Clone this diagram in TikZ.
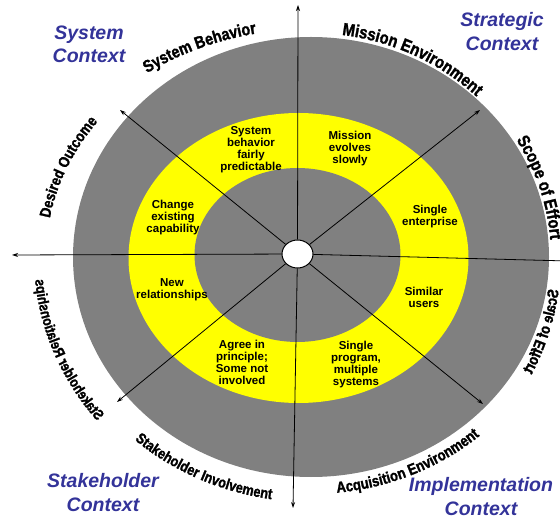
\documentclass[tikz,border=0pt]{standalone}
\usepackage{fontspec}
\setmainfont{Liberation Sans}
\newfontfamily\rimface{Liberation Sans}[FakeStretch=0.85, BoldFeatures={FakeBold=1.5}]
\usepackage{xcolor}
\usepackage{tikz}
\usetikzlibrary{positioning,shapes,arrows.meta,decorations.text,calc}
\definecolor{ringgray}{HTML}{808080}
\definecolor{ringyellow}{HTML}{FFFF00}
\definecolor{ctxblue}{HTML}{333399}
\newcommand{\rimfont}[1]{\rimface\bfseries\fontsize{#1}{#1}\selectfont}
\tikzstyle{cell}=[%
      align=center, font=\bfseries\fontsize{11.5}{12}\selectfont, inner sep=0pt
]
\tikzstyle{ctx}=[%
      align=center, text=ctxblue, font=\bfseries\itshape\fontsize{19.5}{23.5}\selectfont, inner sep=0pt
]
\tikzstyle{hubnode}=[%
      ellipse, draw=black, line width=1pt, fill=white,
      minimum width=31pt, minimum height=28pt, inner sep=0pt
]
\tikzstyle{spoke}=[%
      draw=black, line width=0.8pt, -{Stealth[length=6pt,width=4pt]}
]
\tikzstyle{rim}=[%
      decorate, decoration={text along path}
]
\begin{document}
\begin{tikzpicture}[x=1pt, y=1pt]
    \useasboundingbox (0,0) rectangle (560,520);
    \coordinate (O) at (311,263);

    % rings
    \fill[ringgray] (O) ellipse [x radius=238, y radius=220];
    \fill[ringyellow] (298.5,262) ellipse [x radius=170, y radius=145];
    \fill[ringgray] (297.5,265) ellipse [x radius=103, y radius=87];

    \node[hubnode] (hub) at (297.5,266) {};

    \coordinate (tipN)  at (298,515);
    \coordinate (tipS)  at (293,12);
    \coordinate (tipW)  at (12,265);
    \coordinate (tipE)  at (568,259);
    \coordinate (tipNW) at (120,410);
    \coordinate (tipNE) at (480,410);
    \coordinate (tipSW) at (117,118);
    \coordinate (tipSE) at (483,116);

    \foreach \t in {N,S,W,E,NW,NE,SW,SE}
      \draw[spoke] (hub) -- (tip\t);

    % ring cells
    \node[cell] (behavior)   at (251,370)   {System\\behavior\\fairly\\predictable};
    \node[cell] (mission)    at (350,371)   {Mission\\evolves\\slowly};
    \node[cell] (enterprise) at (430,303)   {Single\\enterprise};
    \node[cell] (users)      at (424,222.5) {Similar\\users};
    \node[cell] (program)    at (356,155)   {Single\\program,\\multiple\\systems};
    \node[cell] (agree)      at (242,157.5) {Agree in\\principle;\\Some not\\involved};
    \node[cell] (newrel)     at (172,230)   {New\\relationships};
    \node[cell] (change)     at (173,302)   {Change\\existing\\capability};

    % contexts
    \node[ctx] (sysctx)   at (89,475.5)  {System\\Context};
    \node[ctx] (stratctx) at (502,488.5) {Strategic\\Context};
    \node[ctx] (stakectx) at (103,27.5)  {Stakeholder\\Context};
    \node[ctx] (implctx)  at (481,23.5)  {Implementation\\Context};

    % rim labels
    \path[rim, decoration={text={|\rimfont{17}|System Behavior}}]
      ([shift={(O)}]126.3:277 and 228) arc[start angle=126.3, end angle=92, x radius=277, y radius=228];
    \path[rim, decoration={text={|\rimfont{17.5}|Mission Environment}}]
      ([shift={(O)}]82.5:237 and 224) arc[start angle=82.5, end angle=35, x radius=237, y radius=224];
    \path[rim, decoration={text={|\rimfont{17.5}|Scope of Effort}}]
      ([shift={(O)}]31.2:240 and 226) arc[start angle=31.2, end angle=-15, x radius=240, y radius=226];
    \path[rim, decoration={mirror, text={|\rimfont{15.5}|Scale of Effort}}]
      ([shift={(O)}]-7.6:250 and 250) arc[start angle=-7.6, end angle=-45, x radius=250, y radius=250];
    \path[rim, decoration={text={|\rimfont{15.5}|Acquisition Environment}}]
      ([shift={(O)}]275.8:257 and 237) arc[start angle=275.8, end angle=325, x radius=257, y radius=237];
    \path[rim, decoration={text={|\rimfont{15}|Stakeholder Involvement}}]
      ([shift={(O)}]228.3:265 and 245) arc[start angle=228.3, end angle=275, x radius=265, y radius=245];
    \path[rim, decoration={mirror, text={|\rimfont{14.7}|Stakeholder Relationships}}]
      ([shift={(O)}]219.5:277 and 258) arc[start angle=219.5, end angle=175, x radius=277, y radius=258];
    \path[rim, decoration={text={|\rimfont{15.5}|Desired Outcome}}]
      ([shift={(O)}]170.2:265 and 228) arc[start angle=170.2, end angle=130, x radius=265, y radius=228];
\end{tikzpicture}
\end{document}
